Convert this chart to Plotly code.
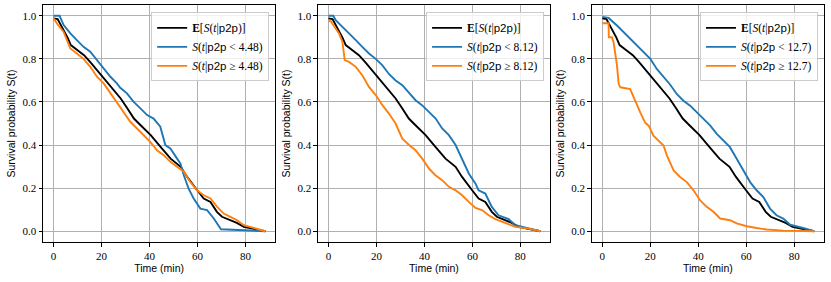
import plotly.graph_objects as go

# ---------------- data ----------------
t_mean = [0, 1.7, 5.8, 7.2, 10, 12.7, 15.5, 19.7, 23.8, 28, 30.8, 33.5, 36.3, 40.5, 44.6, 48.8, 53, 55.7, 59.9, 62.6, 65.4, 68.1, 70.2, 73.6, 76.4, 79.3, 83.4, 88.3]
s_mean = [0.988, 0.985, 0.90, 0.864, 0.84, 0.817, 0.783, 0.728, 0.67, 0.616, 0.57, 0.523, 0.492, 0.446, 0.392, 0.337, 0.299, 0.252, 0.19, 0.152, 0.136, 0.09, 0.067, 0.051, 0.039, 0.02, 0.012, 0.0]

# panel 1: threshold 4.48
t_lo1 = [0, 2.5, 4.2, 7, 9.7, 12.5, 15.3, 18.1, 20.9, 23.7, 26.4, 27.8, 30.6, 33.4, 36.2, 39, 41.7, 44.5, 46.6, 48.7, 51.5, 52.9, 54.3, 56.3, 58.4, 61.2, 64, 66.8, 69.8, 75, 88.3]
s_lo1 = [1.0, 1.0, 0.957, 0.918, 0.887, 0.856, 0.833, 0.794, 0.755, 0.717, 0.686, 0.666, 0.64, 0.60, 0.57, 0.539, 0.523, 0.485, 0.40, 0.384, 0.337, 0.314, 0.26, 0.198, 0.152, 0.105, 0.098, 0.059, 0.009, 0.006, 0.0]
t_hi1 = [0, 1.4, 4.2, 7, 9.7, 12.5, 15.3, 18.1, 20.9, 23.7, 26.4, 29.2, 32, 34.8, 37.6, 40.3, 43.1, 45.9, 48.7, 51.5, 54.3, 57, 59.8, 62.6, 65.4, 68.2, 70.9, 73.7, 76.5, 79.3, 83.5, 88.3]
s_hi1 = [0.99, 0.964, 0.925, 0.848, 0.825, 0.80, 0.763, 0.717, 0.686, 0.64, 0.60, 0.554, 0.508, 0.477, 0.446, 0.415, 0.376, 0.353, 0.322, 0.299, 0.276, 0.229, 0.19, 0.167, 0.152, 0.113, 0.082, 0.067, 0.051, 0.028, 0.015, 0.0]

# panel 2: threshold 8.12
t_lo2 = [0, 2, 3, 5.8, 8.6, 11.4, 14.1, 16.9, 19.7, 22.5, 25.2, 28, 30.8, 33.6, 36.3, 39, 41.9, 44.7, 47.4, 50.2, 53, 55.7, 58.5, 61.3, 62.6, 65.4, 68.1, 70.9, 75.1, 77.9, 83.4, 88.3]
s_lo2 = [1.0, 1.0, 0.98, 0.95, 0.918, 0.887, 0.856, 0.825, 0.80, 0.77, 0.73, 0.70, 0.678, 0.64, 0.608, 0.585, 0.554, 0.523, 0.477, 0.446, 0.40, 0.337, 0.268, 0.221, 0.19, 0.175, 0.113, 0.074, 0.056, 0.028, 0.015, 0.0]
t_hi2 = [0, 1, 2.4, 4.4, 5.8, 6.8, 8.6, 11.4, 14.1, 16.9, 19.7, 22.5, 25.2, 28, 30.8, 33.6, 36.3, 39.1, 41.9, 44.6, 47.4, 50.2, 53, 55.7, 58.5, 61.3, 64, 66.8, 69.6, 72.4, 75.1, 77.9, 83.4, 88.3]
s_hi2 = [0.975, 0.975, 0.95, 0.918, 0.88, 0.794, 0.786, 0.763, 0.724, 0.67, 0.632, 0.585, 0.546, 0.50, 0.43, 0.40, 0.376, 0.337, 0.291, 0.26, 0.237, 0.206, 0.19, 0.167, 0.136, 0.108, 0.098, 0.074, 0.056, 0.043, 0.031, 0.02, 0.012, 0.0]

# panel 3: threshold 12.7
t_lo3 = [0, 2.6, 6.1, 8.9, 11.6, 14.4, 17.2, 20, 22.7, 25.5, 28.3, 31, 33.8, 36.6, 39.4, 42.1, 44.9, 47.7, 50.5, 53.2, 56, 58.8, 61.6, 64.3, 67.1, 69.9, 72.6, 75.4, 78.2, 83.7, 88.3]
s_lo3 = [0.995, 0.99, 0.955, 0.923, 0.892, 0.861, 0.83, 0.80, 0.753, 0.715, 0.68, 0.637, 0.606, 0.583, 0.552, 0.522, 0.491, 0.452, 0.421, 0.39, 0.336, 0.282, 0.228, 0.19, 0.159, 0.105, 0.074, 0.059, 0.031, 0.015, 0.0]
t_hi3 = [0, 2.6, 2.7, 4, 4.7, 6.1, 6.8, 7.5, 11.6, 13, 14.4, 15.8, 17.9, 19.3, 21.3, 22.7, 25.5, 26.9, 29.7, 32.4, 35.2, 38, 40.7, 43.5, 46.3, 49.1, 53.2, 56, 60.2, 64.3, 68.5, 75.4, 88.3]
s_hi3 = [0.965, 0.965, 0.90, 0.90, 0.877, 0.77, 0.684, 0.668, 0.66, 0.622, 0.591, 0.552, 0.503, 0.49, 0.444, 0.429, 0.398, 0.352, 0.282, 0.252, 0.228, 0.19, 0.144, 0.113, 0.09, 0.059, 0.051, 0.036, 0.023, 0.015, 0.008, 0.003, 0.0]

thresholds = ["4.48", "8.12", "12.7"]
x_ticks = [0, 20, 40, 60, 80]
y_ticks = [0.0, 0.2, 0.4, 0.6, 0.8, 1.0]

panels = [(t_lo1, s_lo1, t_hi1, s_hi1), (t_lo2, s_lo2, t_hi2, s_hi2), (t_lo3, s_lo3, t_hi3, s_hi3)]

# ---------------- layout ----------------
W, H = 831, 282
x_left = [42.7, 317.7, 591.7]
ax_w = 232.3
y_top, y_bot = 5.3, 242.3
ML, MR = x_left[0], W - (x_left[2] + ax_w)
MT, MB = y_top, H - y_bot
PW, PH = W - ML - MR, H - MT - MB


def clamp(v):
    return max(0.0, min(1.0, v))


SANS = "Liberation Sans"
SERIF = "Liberation Serif"
P2P = "<span style='font-family:Liberation Sans'>p2p</span>"

fig = go.Figure()
layout = dict(width=W, height=H, margin=dict(l=ML, r=MR, t=MT, b=MB, autoexpand=False),
              paper_bgcolor="white", plot_bgcolor="white", showlegend=True)

for i, (tl, sl, th, sh) in enumerate(panels):
    k = "" if i == 0 else str(i + 1)
    xa, ya, lg = "x" + k, "y" + k, "legend" + k
    thr = thresholds[i]
    traces = [
        (t_mean, s_mean, "black", "<b>E</b>[<i>S</i>(<i>t</i>|" + P2P + ")]"),
        (tl, sl, "#1f77b4", "<i>S</i>(<i>t</i>|" + P2P + " &lt; " + thr + ")"),
        (th, sh, "#ff7f0e", "<i>S</i>(<i>t</i>|" + P2P + " ≥ " + thr + ")"),
    ]
    for tx, sy, col, name in traces:
        fig.add_trace(go.Scatter(x=tx, y=sy, mode="lines", line=dict(color=col, width=1.9),
                                 name=name, xaxis=xa, yaxis=ya, legend=lg))
    d0 = clamp((x_left[i] - ML) / PW)
    d1 = clamp((x_left[i] + ax_w - ML) / PW)
    common = dict(showline=True, mirror=True, linecolor="black", linewidth=1,
                  ticks="outside", ticklen=3.5, tickcolor="black", tickwidth=0.8,
                  showgrid=True, gridcolor="#b0b0b0", gridwidth=0.8, zeroline=False,
                  automargin=False,
                  tickfont=dict(family=SERIF, size=11, color="black"))
    layout["xaxis" + k] = dict(
        domain=[d0, d1], anchor=ya, range=[-4.4, 92.4], tickvals=x_ticks,
        title=dict(text="Time (min)", font=dict(family=SANS, size=10.5, color="black"), standoff=3),
        **common)
    layout["yaxis" + k] = dict(
        domain=[0, 1], anchor=xa, range=[-0.05, 1.05],
        tickvals=y_ticks, tickformat=".1f",
        title=dict(text="Survival probability S(t)", font=dict(family=SANS, size=10.5, color="black"), standoff=4),
        **common)
    lx = clamp((x_left[i] + ax_w * 0.974 - ML) / PW)
    ly = clamp((H - 12.7 - MB) / PH)
    layout[lg] = dict(x=lx, y=ly, xanchor="right", yanchor="top",
                      bgcolor="rgba(255,255,255,0.8)", bordercolor="#cccccc", borderwidth=1,
                      font=dict(family=SERIF, size=11.5, color="black"),
                      tracegroupgap=0, itemwidth=30)

fig.update_layout(**layout)
fig.write_html("out.html", config={"displayModeBar": False},
               post_script="document.body.style.margin='0';document.body.style.overflow='hidden';")
